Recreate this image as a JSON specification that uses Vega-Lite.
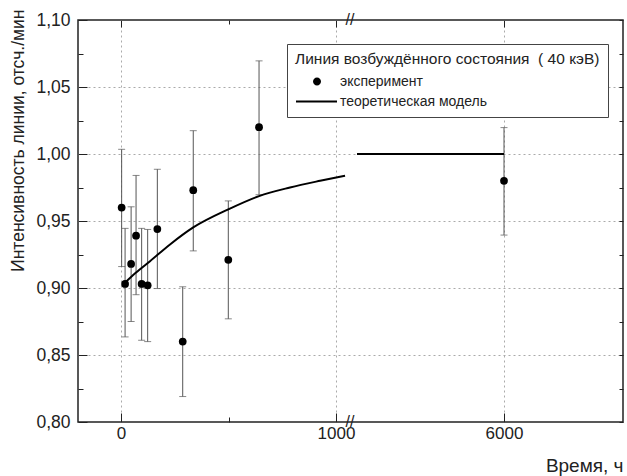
{
  "$schema": "https://vega.github.io/schema/vega-lite/v6.json",
  "width": 545,
  "height": 402,
  "autosize": {"type": "none"},
  "padding": {"left": 78, "top": 20, "right": 4, "bottom": 54},
  "config": {
    "view": {"stroke": "#222", "strokeWidth": 1.5},
    "font": "Liberation Sans",
    "axis": {
      "domain": false,
      "labelFont": "Liberation Sans",
      "titleFont": "Liberation Sans",
      "labelColor": "#222",
      "titleColor": "#222",
      "tickColor": "#222",
      "titleFontWeight": "normal",
      "gridColor": "#aaa",
      "gridDash": [2, 3]
    }
  },
  "datasets": {
    "pts": [
      {"x": 3, "y": 0.960, "lo": 0.916, "hi": 1.0035, "series": "эксперимент"},
      {"x": 19, "y": 0.903, "lo": 0.8635, "hi": 0.9445, "series": "эксперимент"},
      {"x": 47, "y": 0.918, "lo": 0.875, "hi": 0.9606, "series": "эксперимент"},
      {"x": 70, "y": 0.939, "lo": 0.895, "hi": 0.984, "series": "эксперимент"},
      {"x": 96, "y": 0.903, "lo": 0.861, "hi": 0.9445, "series": "эксперимент"},
      {"x": 124, "y": 0.902, "lo": 0.860, "hi": 0.9437, "series": "эксперимент"},
      {"x": 169, "y": 0.944, "lo": 0.8996, "hi": 0.9886, "series": "эксперимент"},
      {"x": 287, "y": 0.860, "lo": 0.819, "hi": 0.9009, "series": "эксперимент"},
      {"x": 336, "y": 0.973, "lo": 0.9277, "hi": 1.0174, "series": "эксперимент"},
      {"x": 499, "y": 0.921, "lo": 0.877, "hi": 0.965, "series": "эксперимент"},
      {"x": 642, "y": 1.020, "lo": 0.9696, "hi": 1.0695, "series": "эксперимент"},
      {"x": 6000, "y": 0.980, "lo": 0.9395, "hi": 1.0197, "series": "эксперимент"}
    ],
    "model": [
      {"x": 19, "y": 0.904, "seg": "a"},
      {"x": 70, "y": 0.9115, "seg": "a"},
      {"x": 135, "y": 0.920, "seg": "a"},
      {"x": 228, "y": 0.9325, "seg": "a"},
      {"x": 336, "y": 0.9452, "seg": "a"},
      {"x": 499, "y": 0.9587, "seg": "a"},
      {"x": 642, "y": 0.9686, "seg": "a"},
      {"x": 786, "y": 0.975, "seg": "a"},
      {"x": 926, "y": 0.980, "seg": "a"},
      {"x": 1042, "y": 0.9838, "seg": "a"},
      {"x": 4530, "y": 1.0, "seg": "b"},
      {"x": 6000, "y": 1.0, "seg": "b"}
    ],
    "breaks": [
      {"x": 2000, "y": 1.1},
      {"x": 2000, "y": 0.8}
    ]
  },
  "layer": [
    {
      "data": {"name": "pts"},
      "mark": {"type": "errorbar", "ticks": {"size": 7, "color": "#555"}, "rule": {"color": "#555"}},
      "encoding": {
        "x": {"field": "x", "type": "quantitative",
          "scale": {"domain": [-200, 1065, 4460, 7190], "range": [0, 272, 272, 545], "nice": false, "zero": false},
          "axis": {"orient": "top", "values": [0, 500, 1000, 6000], "labels": false, "grid": false, "title": null,
            "tickSize": {"condition": {"test": "datum.value == 500", "value": -4}, "value": -7}}},
        "y": {"field": "lo", "type": "quantitative",
          "scale": {"domain": [0.8, 1.1], "nice": false, "zero": false},
          "axis": {"orient": "right", "values": [0.8, 0.825, 0.85, 0.875, 0.9, 0.925, 0.95, 0.975, 1.0, 1.025, 1.05, 1.075, 1.1],
            "labels": false, "grid": false, "title": null, "tickSize": -4}},
        "y2": {"field": "hi"}
      }
    },
    {
      "data": {"name": "pts"},
      "mark": {"type": "point", "filled": true, "color": "black", "opacity": 1, "size": 60},
      "encoding": {
        "x": {"field": "x", "type": "quantitative",
          "scale": {"domain": [-200, 1065, 4460, 7190], "range": [0, 272, 272, 545], "nice": false, "zero": false},
          "axis": {"values": [0, 500, 1000, 6000],
            "labelExpr": "datum.value == 500 ? '' : format(datum.value, 'd')",
            "labelFontSize": 17, "labelPadding": 12,
            "tickSize": {"condition": {"test": "datum.value == 500", "value": -5}, "value": -9},
            "grid": true,
            "gridOpacity": {"condition": {"test": "datum.value == 500", "value": 0}, "value": 1},
            "title": "Время, ч", "titleFontSize": 19, "titleAnchor": "end", "titleAlign": "right",
            "titleX": 545, "titleY": 43, "titleBaseline": "middle"}},
        "y": {"field": "y", "type": "quantitative",
          "scale": {"domain": [0.8, 1.1], "nice": false, "zero": false},
          "axis": {"values": [0.8, 0.825, 0.85, 0.875, 0.9, 0.925, 0.95, 0.975, 1.0, 1.025, 1.05, 1.075, 1.1],
            "labelExpr": "abs(datum.value*20 - round(datum.value*20)) < 0.01 ? replace(format(datum.value, '.2f'), '.', ',') : ''",
            "labelFontSize": 17.5, "labelPadding": 17,
            "tickSize": {"condition": {"test": "abs(datum.value*20 - round(datum.value*20)) > 0.01", "value": -5}, "value": -9},
            "grid": true,
            "gridOpacity": {"condition": {"test": "abs(datum.value*20 - round(datum.value*20)) > 0.01 || datum.value < 0.81 || datum.value > 1.09", "value": 0}, "value": 1},
            "title": "Интенсивность линии, отсч./мин", "titleFontSize": 17.5,
            "titleAngle": 270, "titleAlign": "right", "titleBaseline": "middle",
            "titleX": -60, "titleY": -11}}
      }
    },
    {
      "data": {"name": "pts"},
      "transform": [{"filter": "false"}],
      "mark": {"type": "point", "filled": true, "color": "black", "opacity": 1},
      "encoding": {
        "shape": {"field": "series", "type": "nominal",
          "scale": {"domain": ["эксперимент", "теоретическая модель"],
            "range": ["M2.25,0A0.5,0.5,0,1,1,1.25,0A0.5,0.5,0,1,1,2.25,0Z", "M-0.875,-0.13H4.25V0.13H-0.875Z"]},
          "legend": {
            "orient": "none", "legendX": 209, "legendY": 24,
            "title": "Линия возбуждённого состояния\u00a0\u00a0( 40 кэВ)",
            "titleLimit": 0,
            "titleFont": "Liberation Sans", "titleFontSize": 15.5, "titleFontWeight": "normal", "titleColor": "#222",
            "labelFont": "Liberation Sans", "labelFontSize": 14, "labelColor": "#222", "labelLimit": 0,
            "padding": 8, "strokeColor": "#444", "fillColor": "white",
            "symbolSize": 256, "symbolFillColor": "black", "symbolStrokeWidth": 0, "symbolOpacity": 1,
            "labelOffset": 29, "rowPadding": 5, "titlePadding": 6,
            "encode": {
              "symbols": {"update": {
                "fill": {"value": "black"},
                "fillOpacity": {"value": 1},
                "strokeWidth": {"value": 0},
                "opacity": {"value": 1},
                "size": {"value": 256}
              }}
            }
          }}
      }
    },
    {
      "data": {"name": "model"},
      "mark": {"type": "line", "color": "black", "strokeWidth": 2, "interpolate": "monotone"},
      "encoding": {
        "x": {"field": "x", "type": "quantitative",
          "scale": {"domain": [-200, 1065, 4460, 7190], "range": [0, 272, 272, 545], "nice": false, "zero": false},
          "axis": null},
        "y": {"field": "y", "type": "quantitative",
          "scale": {"domain": [0.8, 1.1], "nice": false, "zero": false}, "axis": null},
        "detail": {"field": "seg", "type": "nominal"}
      }
    },
    {
      "data": {"name": "breaks"},
      "mark": {"type": "text", "text": "//", "fontSize": 16, "color": "#222", "font": "Liberation Sans"},
      "encoding": {
        "x": {"field": "x", "type": "quantitative",
          "scale": {"domain": [-200, 1065, 4460, 7190], "range": [0, 272, 272, 545], "nice": false, "zero": false},
          "axis": null},
        "y": {"field": "y", "type": "quantitative",
          "scale": {"domain": [0.8, 1.1], "nice": false, "zero": false}, "axis": null}
      }
    }
  ],
  "resolve": {"axis": {"x": "independent", "y": "independent"}}
}
